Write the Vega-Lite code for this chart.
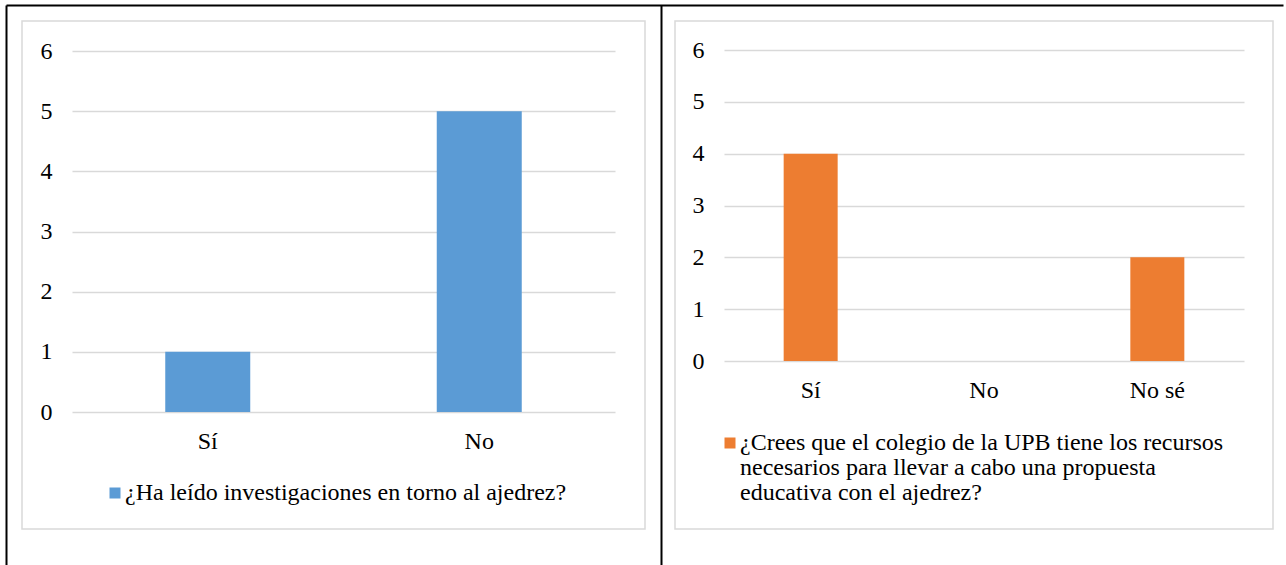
{
  "$schema": "https://vega.github.io/schema/vega-lite/v6.json",
  "background": "white",
  "padding": {"left": 5, "top": 4, "right": 0, "bottom": 0},
  "bounds": "flush",
  "spacing": 30,
  "resolve": {"scale": {"color": "independent"}, "legend": {"color": "independent"}},
  "config": {
    "view": {"stroke": "#d9d9d9", "strokeWidth": 1.5},
    "font": "Times New Roman, Liberation Serif, DejaVu Serif, serif",
    "axis": {"labelFont": "Times New Roman, Liberation Serif, DejaVu Serif, serif", "labelFontSize": 24, "labelColor": "#000000"},
    "legend": {
      "orient": "none", "padding": 0, "symbolType": "square", "symbolSize": 121,
      "symbolStrokeWidth": 0, "labelFont": "Times New Roman, Liberation Serif, DejaVu Serif, serif", "labelFontSize": 24,
      "labelColor": "#000000", "labelLimit": 1000, "labelOffset": -2
    }
  },
  "hconcat": [
    {
      "width": 623,
      "height": 508,
      "data": {"values": [
        {"respuesta": "Sí", "cantidad": 1, "pregunta": "¿Ha leído investigaciones en torno al ajedrez?"},
        {"respuesta": "No", "cantidad": 5, "pregunta": "¿Ha leído investigaciones en torno al ajedrez?"}
      ]},
      "layer": [
        {
          "mark": {"type": "bar", "size": 85},
          "encoding": {
            "x": {"field": "respuesta", "type": "nominal", "sort": ["Sí", "No"],
              "scale": {"range": [50, 593], "padding": 0},
              "axis": {"orient": "bottom", "offset": -100, "labelPadding": 0, "ticks": false, "domain": false, "grid": false, "title": null, "labelAngle": 0, "labelBaseline": "top"}},
            "y": {"field": "cantidad", "type": "quantitative",
              "scale": {"domain": [0, 6], "range": [391, 30], "nice": false},
              "axis": {"orient": "left", "values": [0, 1, 2, 3, 4, 5, 6], "offset": -30, "labelPadding": 0, "ticks": false, "domain": false, "grid": true, "gridColor": "#d9d9d9", "gridWidth": 1.5, "title": null}},
            "color": {"field": "pregunta", "type": "nominal",
              "scale": {"range": ["#5B9BD5"]},
              "legend": {"title": null, "legendX": 81, "legendY": 460}}
          }
        },
        {
          "mark": {"type": "point", "opacity": 0, "size": 0},
          "encoding": {
            "x": {"datum": 0, "scale": {"domain": [0, 1], "range": [-16, 1261]},
              "axis": {"orient": "top", "offset": 16, "labels": false, "ticks": false, "grid": false, "title": null, "domain": true, "domainColor": "#000000", "domainWidth": 2}},
            "y": {"datum": 0, "scale": {"domain": [0, 1], "range": [600, -16]},
              "axis": {"orient": "left", "offset": 16, "labels": false, "ticks": false, "grid": false, "title": null, "domain": true, "domainColor": "#000000", "domainWidth": 2}}
          }
        }
      ],
      "resolve": {"scale": {"x": "independent", "y": "independent"}}
    },
    {
      "width": 598,
      "height": 508,
      "data": {"values": [
        {"respuesta": "Sí", "cantidad": 4, "pregunta": "¿Crees que el colegio de la UPB tiene los recursos necesarios para llevar a cabo una propuesta educativa con el ajedrez?"},
        {"respuesta": "No", "cantidad": 0, "pregunta": "¿Crees que el colegio de la UPB tiene los recursos necesarios para llevar a cabo una propuesta educativa con el ajedrez?"},
        {"respuesta": "No sé", "cantidad": 2, "pregunta": "¿Crees que el colegio de la UPB tiene los recursos necesarios para llevar a cabo una propuesta educativa con el ajedrez?"}
      ]},
      "layer": [
        {
          "mark": {"type": "bar", "size": 54},
          "encoding": {
            "x": {"field": "respuesta", "type": "nominal", "sort": ["Sí", "No", "No sé"],
              "scale": {"range": [49, 569], "padding": 0},
              "axis": {"orient": "bottom", "offset": -151, "labelPadding": 0, "ticks": false, "domain": false, "grid": false, "title": null, "labelAngle": 0, "labelBaseline": "top"}},
            "y": {"field": "cantidad", "type": "quantitative",
              "scale": {"domain": [0, 6], "range": [340, 29], "nice": false},
              "axis": {"orient": "left", "values": [0, 1, 2, 3, 4, 5, 6], "offset": -29, "labelPadding": 0, "ticks": false, "domain": false, "grid": true, "gridColor": "#d9d9d9", "gridWidth": 1.5, "title": null}},
            "color": {"field": "pregunta", "type": "nominal",
              "scale": {"range": ["#ED7D31"]},
              "legend": {"title": null, "legendX": 43, "legendY": 410,
                "labelExpr": "['¿Crees que el colegio de la UPB tiene los recursos', 'necesarios para llevar a cabo una propuesta', 'educativa con el ajedrez?']",
                "labelBaseline": "top",
                "encode": {"labels": {"update": {"lineHeight": {"value": 25}, "dy": {"value": -12}}}}}}
          }
        },
        {
          "mark": {"type": "point", "opacity": 0, "size": 0},
          "encoding": {
            "y": {"datum": 0, "scale": {"domain": [0, 1], "range": [600, -16]},
              "axis": {"orient": "left", "offset": 14, "labels": false, "ticks": false, "grid": false, "title": null, "domain": true, "domainColor": "#000000", "domainWidth": 2}}
          }
        }
      ],
      "resolve": {"scale": {"x": "independent", "y": "independent"}}
    }
  ]
}
